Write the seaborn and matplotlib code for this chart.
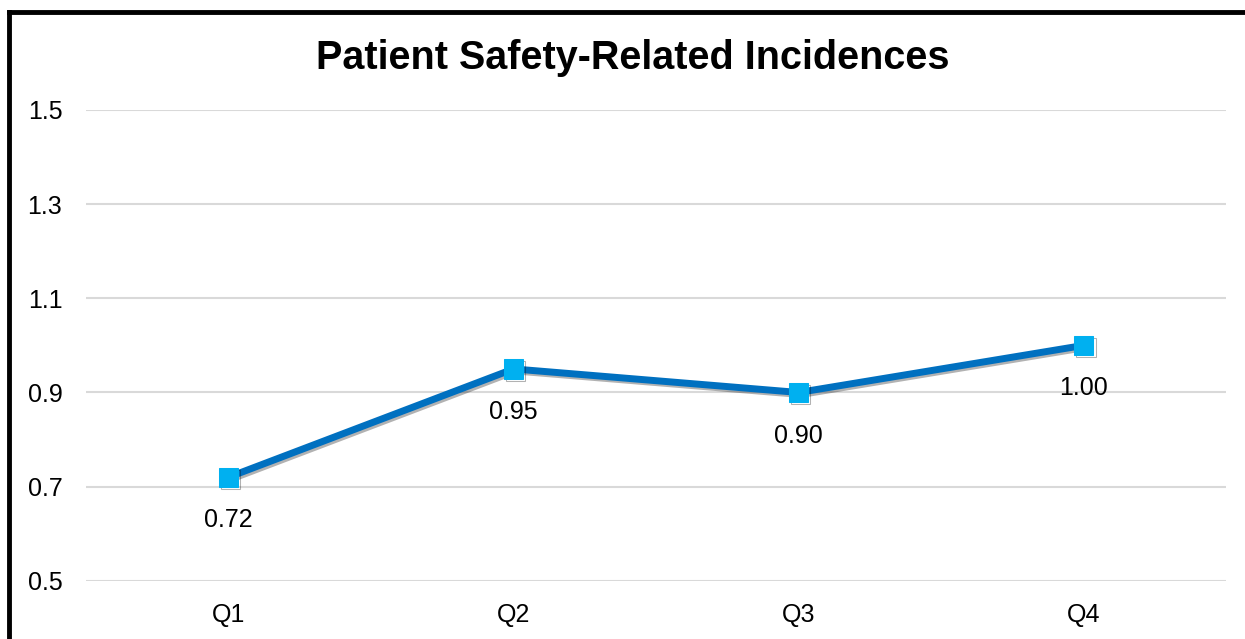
import matplotlib
matplotlib.use("Agg")
import matplotlib.pyplot as plt
import matplotlib.patheffects as pe
from matplotlib.lines import Line2D
import seaborn as sns
import pandas as pd

quarters = ["Q1", "Q2", "Q3", "Q4"]
incidences = [0.72, 0.95, 0.90, 1.00]
yticks = [0.5, 0.7, 0.9, 1.1, 1.3, 1.5]

df = pd.DataFrame({"quarter": quarters, "value": incidences})

sns.set_style("white")
plt.rcParams["font.family"] = ["Liberation Sans", "DejaVu Sans"]
plt.rcParams["text.color"] = "black"

fig = plt.figure(figsize=(12.45, 6.39), dpi=100)
ax = fig.add_axes([0.069, 0.091, 0.916, 0.737])

sns.lineplot(data=df, x="quarter", y="value", ax=ax, color="#0070C0",
             linewidth=5, marker="s", markersize=14,
             markerfacecolor="#00B0F0", markeredgecolor="#00B0F0",
             sort=False,
             path_effects=[pe.SimpleLineShadow(offset=(1.5, -1.5), alpha=0.3), pe.Normal()])

for i, v in enumerate(incidences):
    ax.annotate(f"{v:.2f}", (i, v), xytext=(0, -31), textcoords="offset points",
                ha="center", va="center", fontsize=18, color="black")

ax.set_xlim(-0.5, 3.5)
ax.set_ylim(0.5, 1.5)
ax.set_yticks(yticks)
ax.set_yticklabels([f"{t:.1f}" for t in yticks])
ax.yaxis.grid(True, color="#D9D9D9", linewidth=1.5)
ax.set_axisbelow(True)
for s in ax.spines.values():
    s.set_visible(False)
ax.tick_params(axis="both", labelsize=18, length=0, colors="black")
ax.tick_params(axis="x", pad=16)
ax.tick_params(axis="y", pad=17)
ax.set_xlabel("")
ax.set_ylabel("")

fig.text(0.508, 0.91, "Patient Safety-Related Incidences", ha="center", va="center",
         fontsize=28.5, fontweight="bold", color="black")

# black frame on left and top
fig.add_artist(Line2D([8.5 / 1245, 8.5 / 1245], [0, 1 - 12 / 639], color="black",
                      linewidth=3.5, transform=fig.transFigure, solid_capstyle="projecting"))
fig.add_artist(Line2D([8.5 / 1245, 1], [1 - 12 / 639, 1 - 12 / 639], color="black",
                      linewidth=3.5, transform=fig.transFigure, solid_capstyle="projecting"))

fig.savefig("out.png", dpi=100)
